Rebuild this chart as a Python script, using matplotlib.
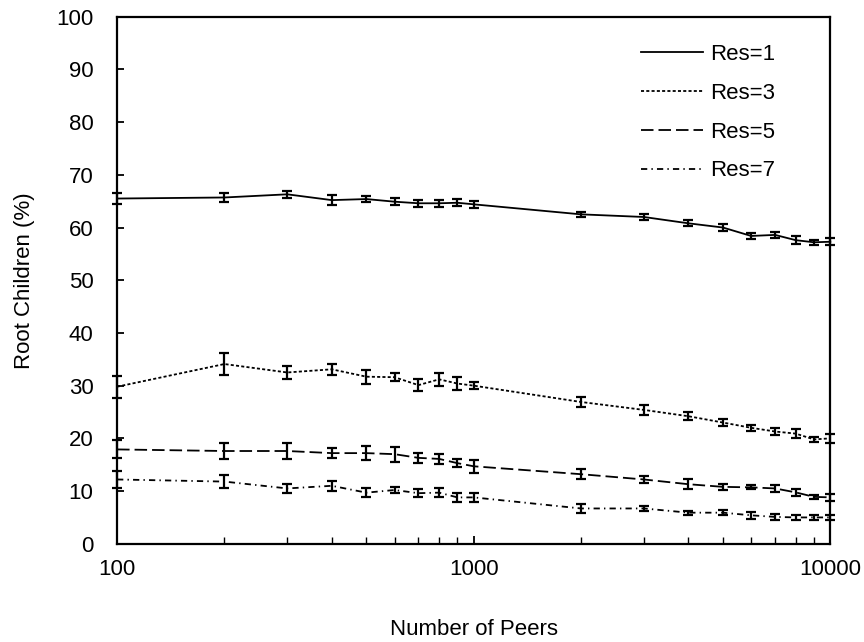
import numpy as np
import matplotlib
matplotlib.use("Agg")
import matplotlib.pyplot as plt
from matplotlib.lines import Line2D
from matplotlib.ticker import FixedLocator, NullFormatter

plt.rcParams['font.family'] = ['Liberation Sans', 'DejaVu Sans']
plt.rcParams['lines.scale_dashes'] = False

# number of peers in the overlay
peers = [100, 200, 300, 400, 500, 600, 700, 800, 900, 1000,
         2000, 3000, 4000, 5000, 6000, 7000, 8000, 9000, 10000]

# share of peers attached directly to the root, per resource level
res1 = [65.5, 65.7, 66.3, 65.2, 65.4, 64.9, 64.6, 64.6, 64.7, 64.4,
        62.5, 62.0, 60.8, 60.0, 58.4, 58.6, 57.6, 57.2, 57.3]
res1_err = [1.0, 0.85, 0.7, 0.95, 0.65, 0.7, 0.65, 0.7, 0.65, 0.7,
            0.5, 0.6, 0.6, 0.6, 0.6, 0.6, 0.7, 0.5, 0.7]

res3 = [29.8, 34.1, 32.5, 33.1, 31.7, 31.6, 30.1, 31.2, 30.4, 30.0,
        26.9, 25.4, 24.2, 23.0, 22.0, 21.3, 20.9, 19.8, 20.0]
res3_err = [2.1, 2.0, 1.3, 1.0, 1.3, 0.8, 1.1, 1.2, 1.2, 0.7,
            1.0, 0.9, 0.8, 0.6, 0.6, 0.6, 0.8, 0.5, 0.9]

res5 = [17.9, 17.6, 17.6, 17.2, 17.2, 17.0, 16.3, 16.1, 15.3, 14.7,
        13.2, 12.2, 11.3, 10.8, 10.7, 10.5, 9.75, 8.9, 8.8]
res5_err = [1.7, 1.6, 1.5, 1.0, 1.4, 1.4, 0.9, 1.0, 0.8, 1.2,
            0.9, 0.7, 0.9, 0.6, 0.4, 0.7, 0.7, 0.4, 0.7]

res7 = [12.2, 11.8, 10.5, 11.0, 9.7, 10.2, 9.6, 9.7, 8.8, 8.8,
        6.7, 6.7, 5.9, 5.9, 5.4, 5.1, 5.0, 5.0, 5.0]
res7_err = [1.6, 1.2, 0.9, 1.0, 0.9, 0.6, 0.8, 0.8, 0.8, 0.8,
            0.8, 0.5, 0.4, 0.5, 0.7, 0.5, 0.5, 0.4, 0.4]

series = [
    ("Res=1", res1, res1_err, '-'),
    ("Res=3", res3, res3_err, (0, (2.2, 1.6))),
    ("Res=5", res5, res5_err, (0, (9, 3.6))),
    ("Res=7", res7, res7_err, (0, (4.5, 3, 1, 3))),
]

fig = plt.figure(figsize=(8.64, 6.42), dpi=100)
ax = fig.add_axes([0.1355, 0.153, 0.8255, 0.821])

handles = []
for label, vals, err, ls in series:
    line, caps, bars = ax.errorbar(peers, vals, yerr=err, color='black',
                                   linestyle=ls, linewidth=1.3,
                                   elinewidth=1.6, capsize=3.5, capthick=1.6,
                                   clip_on=False)
    for c in caps:
        c.set_clip_on(False)
    for b in bars:
        b.set_clip_on(False)
        b.set_linestyle('-')
    handles.append(Line2D([], [], color='black', linestyle=ls,
                          linewidth=1.3, label=label))

ax.set_xscale('log')
ax.set_xlim(100, 10000)
ax.set_ylim(0, 100)
ax.set_yticks(np.arange(0, 101, 10))
ax.xaxis.set_major_locator(FixedLocator([100, 1000, 10000]))
ax.set_xticklabels(['100', '1000', '10000'])
ax.xaxis.set_minor_locator(FixedLocator([200, 300, 400, 500, 600, 700, 800, 900,
                                         2000, 3000, 4000, 5000, 6000, 7000, 8000, 9000]))
ax.xaxis.set_minor_formatter(NullFormatter())

ax.tick_params(axis='y', which='major', direction='in', length=5, width=1.3,
               labelsize=16, pad=17, right=False)
ax.tick_params(axis='x', which='major', direction='in', length=6, width=1.3,
               labelsize=16, pad=11, top=False)
ax.tick_params(axis='x', which='minor', direction='in', length=5, width=1.0,
               top=False)

for sp in ax.spines.values():
    sp.set_linewidth(1.6)

ax.set_xlabel("Number of Peers", fontsize=16, labelpad=28)
ax.set_ylabel("Root Children (%)", fontsize=16, labelpad=15)

ax.legend(handles=handles, loc='upper right', frameon=False, fontsize=16,
          handlelength=2.8, handletextpad=0.3, labelspacing=0.8,
          borderaxespad=0, bbox_to_anchor=(0.935, 0.965))

fig.savefig("out.png", dpi=100)
